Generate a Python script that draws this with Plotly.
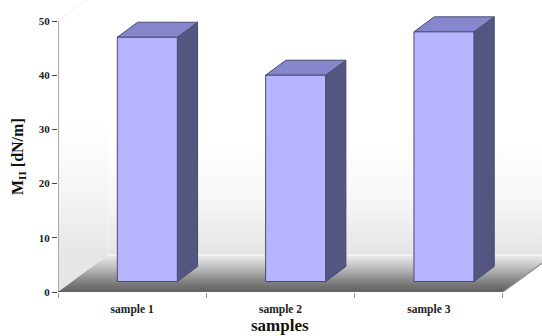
import plotly.graph_objects as go

categories = ["sample 1", "sample 2", "sample 3"]
values = [47, 40, 48]
y_ticks = [0, 10, 20, 30, 40, 50]

W, H = 542, 336
L, B = 58, 44
PX_X = 148.33           # px per category band
PX_Y = 5.42             # px per y unit
PLOT_H = H - B
X_MAX = (W - L) / PX_X
Y_MAX = PLOT_H / PX_Y
DX = 50 / PX_X          # full floor depth
DY = 37 / PX_Y
BAR_W = 60 / PX_X
NEAR = 11.2 / 37        # bar start depth fraction
FAR = 26.2 / 37         # bar end depth fraction

FRONT = "#b4b4ff"
SIDE = "#555582"
TOP = "#8686cc"
EDGE = "#4a4a70"

fig = go.Figure()


def poly(xs, ys, **kw):
    fig.add_trace(go.Scatter(x=xs, y=ys, mode="lines", fill="toself", hoverinfo="skip",
                             showlegend=False, **kw))


def grad(stops, start, stop):
    return dict(type="vertical", colorscale=stops, start=start, stop=stop)


wall_top = 50 + DY
wall_grad = grad([[0, "#e4e4e4"], [0.45, "#f8f8f8"], [0.9, "#ffffff"], [1, "#ffffff"]], DY, wall_top * 0.55)

# back wall
poly([DX, X_MAX + 1, X_MAX + 1, DX, DX], [DY, DY, wall_top, wall_top, DY],
     line=dict(width=0), fillcolor="rgba(0,0,0,0)", fillgradient=wall_grad)
# left wall
poly([0, DX, DX, 0, 0], [0, DY, wall_top, 50, 0],
     line=dict(width=0), fillcolor="rgba(0,0,0,0)",
     fillgradient=grad([[0, "#e6e6e6"], [0.5, "#f6f6f6"], [1, "#ffffff"]], DY, wall_top * 0.55))
# left-wall inner edge, fading
fig.add_trace(go.Scatter(x=[DX, DX], y=[DY, 21], mode="lines", line=dict(color="#f4f4f4", width=1),
                         hoverinfo="skip", showlegend=False))
fig.add_trace(go.Scatter(x=[0, DX], y=[50, wall_top], mode="lines", line=dict(color="#f2f2f2", width=1),
                         hoverinfo="skip", showlegend=False))
# floor
poly([0, 3, 3 + DX, DX, 0], [0, 0, DY, DY, 0],
     line=dict(width=0), fillcolor="rgba(0,0,0,0)",
     fillgradient=grad([[0, "#5e5e5e"], [0.3, "#858585"], [0.65, "#bdbdbd"], [1, "#ececec"]], 0, DY))
# floor back highlight
fig.add_trace(go.Scatter(x=[DX, X_MAX + 1], y=[DY, DY], mode="lines", line=dict(color="#f6f6f6", width=1.5),
                         hoverinfo="skip", showlegend=False))
# floor right edge
fig.add_trace(go.Scatter(x=[3, 3 + DX], y=[0, DY], mode="lines", line=dict(color="#8c8c8c", width=1.2),
                         hoverinfo="skip", showlegend=False))

# bars: sides and tops derived from the values
fx, fy = NEAR * DX, 10.5 / PX_Y
ddx, ddy = (FAR - NEAR) * DX, 15 / PX_Y
band_centres = [i + 0.5 for i in range(len(categories))]
for c, v in zip(band_centres, values):
    x0 = c - BAR_W / 2 + fx
    x1 = c + BAR_W / 2 + fx
    poly([x1, x1 + ddx, x1 + ddx, x1, x1], [fy, fy + ddy, v + ddy, v, fy],
         line=dict(color=EDGE, width=1), fillcolor=SIDE)
    poly([x0, x0 + ddx, x1 + ddx, x1, x0], [v, v + ddy, v + ddy, v, v],
         line=dict(color=EDGE, width=1), fillcolor=TOP)

# axis lines
fig.add_trace(go.Scatter(x=[0, 0], y=[0, 50], mode="lines", line=dict(color="#ababab", width=2),
                         hoverinfo="skip", showlegend=False, cliponaxis=False))
fig.add_trace(go.Scatter(x=[0, 3], y=[0, 0], mode="lines", line=dict(color="#666666", width=2),
                         hoverinfo="skip", showlegend=False, cliponaxis=False))

# front faces live on overlaying axes so they paint above the floor and walls
fig.add_trace(go.Bar(
    x=[c + fx for c in band_centres],
    y=[v - fy for v in values],
    base=fy,
    width=BAR_W,
    marker=dict(color=FRONT, line=dict(color=EDGE, width=1)),
    hoverinfo="skip",
    showlegend=False,
    xaxis="x2", yaxis="y2",
))

serif = "Liberation Serif"
fig.update_layout(
    width=W, height=H,
    margin=dict(l=L, r=0, t=0, b=B, pad=0),
    paper_bgcolor="white", plot_bgcolor="white",
    showlegend=False,
    xaxis=dict(
        range=[0, X_MAX], showgrid=False, zeroline=False, showline=False,
        tickmode="array", tickvals=band_centres, ticktext=categories, ticks="", ticklen=0,
        ticklabelstandoff=8,
        tickfont=dict(family=serif, size=11.5, color="#222222", weight="bold"),
        minor=dict(tickmode="array", tickvals=[0, 1, 2, 3], ticks="outside", ticklen=5,
                   tickcolor="#999999", tickwidth=1, showgrid=False),
        automargin=False, fixedrange=True,
    ),
    yaxis=dict(
        range=[0, Y_MAX], showgrid=False, zeroline=False, showline=False,
        tickmode="array", tickvals=y_ticks, ticks="outside", ticklen=5, tickcolor="#444444", tickwidth=1,
        tickfont=dict(family=serif, size=11, color="#222222", weight="bold"),
        automargin=False, fixedrange=True,
    ),
    xaxis2=dict(range=[0, X_MAX], overlaying="x", visible=False, fixedrange=True),
    yaxis2=dict(range=[0, Y_MAX], overlaying="y", visible=False, fixedrange=True),
    annotations=[
        dict(
            text="<b>M<sub>II</sub> [dN/m]</b>", xref="paper", yref="paper",
            x=-(L - 18) / (W - L), y=(PLOT_H - 157) / PLOT_H,
            textangle=-90, showarrow=False, xanchor="center", yanchor="middle",
            font=dict(family=serif, size=16, color="#111111"),
        ),
        dict(
            text="<b>samples</b>", xref="paper", yref="paper",
            x=(280 - L) / (W - L), y=-(325.5 - PLOT_H) / PLOT_H,
            showarrow=False, xanchor="center", yanchor="middle",
            font=dict(family=serif, size=17, color="#111111"),
        ),
    ],
)

fig.write_html("out.html", config=dict(displayModeBar=False),
               post_script="document.body.style.margin='0';document.documentElement.style.overflow='hidden';")
